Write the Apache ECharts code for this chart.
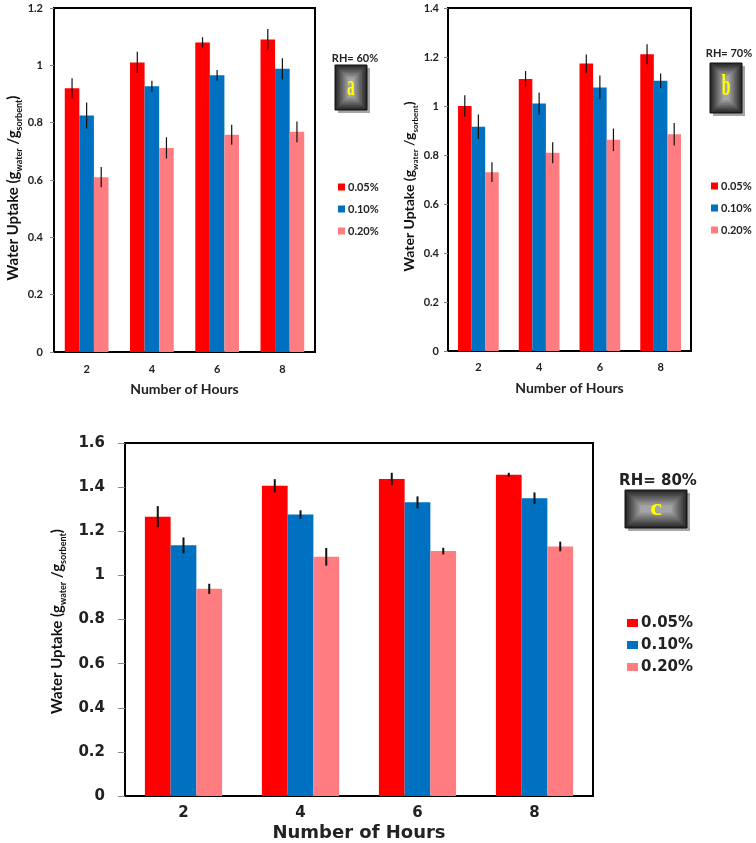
<!DOCTYPE html>
<html>
<head>
<meta charset="utf-8">
<script src="https://cdn.jsdelivr.net/npm/echarts@6/dist/echarts.min.js"></script>
<style>
html,body{margin:0;padding:0;background:#fff;}
#chart{width:756px;height:843px;}
</style>
</head>
<body>
<div id="chart"></div>
<script>
// ---------- data ----------
const hours = ['2', '4', '6', '8'];
const seriesNames = ['0.05%', '0.10%', '0.20%'];

// RH = 60 % (panel a)
const rh60_005 = [0.92, 1.01, 1.08, 1.09];
const rh60_010 = [0.825, 0.927, 0.965, 0.988];
const rh60_020 = [0.61, 0.712, 0.758, 0.768];
const rh60_err005 = [0.035, 0.037, 0.018, 0.037];
const rh60_err010 = [0.045, 0.019, 0.019, 0.037];
const rh60_err020 = [0.035, 0.037, 0.035, 0.036];

// RH = 70 % (panel b)
const rh70_005 = [1.0, 1.11, 1.173, 1.211];
const rh70_010 = [0.915, 1.01, 1.076, 1.103];
const rh70_020 = [0.73, 0.809, 0.862, 0.885];
const rh70_err005 = [0.044, 0.033, 0.037, 0.041];
const rh70_err010 = [0.05, 0.045, 0.048, 0.03];
const rh70_err020 = [0.04, 0.043, 0.046, 0.046];

// RH = 80 % (panel c)
const rh80_005 = [1.266, 1.406, 1.437, 1.456];
const rh80_010 = [1.136, 1.276, 1.331, 1.35];
const rh80_020 = [0.939, 1.084, 1.11, 1.131];
const rh80_err005 = [0.048, 0.03, 0.028, 0.009];
const rh80_err010 = [0.036, 0.019, 0.027, 0.026];
const rh80_err020 = [0.023, 0.04, 0.015, 0.022];

const yMaxA = 1.2, yMaxB = 1.4, yMaxC = 1.6, yStep = 0.2;
const panelLabels = ['RH= 60%', 'RH= 70%', 'RH= 80%'];
const panelLetters = ['a', 'b', 'c'];

// ---------- styles ----------
const colors = ['#ff0000', '#0070c0', '#ff7c80'];
const FA = 'Lato, "Open Sans", sans-serif';
const FC = '"DejaVu Sans", Verdana, sans-serif';

function yTitle(fam, size, sub, bold) {
  return {
    fontFamily: fam,
    rich: {
      n: { fontFamily: fam, fontSize: size, fontWeight: bold ? 'bold' : 'normal', color: '#111', lineHeight: size + 6, verticalAlign: 'middle' },
      s: { fontFamily: fam, fontSize: sub, fontWeight: bold ? 'bold' : 'normal', color: '#111', lineHeight: size + 6, verticalAlign: 'bottom' }
    }
  };
}
const yName = '{n|Water Uptake (g}{s|water}{n| /g}{s|sorbent}{n|)}';

const panels = [
  { grid: { left: 54, top: 8, width: 261, height: 344 }, max: yMaxA, gap: 0.33,
    vals: [rh60_005, rh60_010, rh60_020], errs: [rh60_err005, rh60_err010, rh60_err020],
    font: FA, tick: 11, xMargin: 12, yMargin: 11, nameSize: 14, nameGapX: 30, nameGapY: 28,
    yTitleStyle: yTitle(FA, 15, 9, true), yPad: [0, 16, 0, 0], errW: 1.2, tickLen: 4, titleFont: FA },
  { grid: { left: 448, top: 8, width: 243, height: 343 }, max: yMaxB, gap: 0.33,
    vals: [rh70_005, rh70_010, rh70_020], errs: [rh70_err005, rh70_err010, rh70_err020],
    font: FA, tick: 11, xMargin: 11, yMargin: 9, nameSize: 14, nameGapX: 30, nameGapY: 26,
    yTitleStyle: yTitle(FA, 14, 8, true), yPad: [0, 14, 0, 0], errW: 1.2, tickLen: 4, titleFont: FA },
  { grid: { left: 125, top: 443, width: 468, height: 353 }, max: yMaxC, gap: 0.34,
    vals: [rh80_005, rh80_010, rh80_020], errs: [rh80_err005, rh80_err010, rh80_err020],
    font: FC, tick: 15, xMargin: 10, yMargin: 20, nameSize: 18, nameGapX: 28, nameGapY: 50,
    yTitleStyle: yTitle(FA, 15, 9, true), yPad: [0, 4, 0, 0], errW: 2, tickLen: 7, titleFont: FC }
];

const grids = [], xAxes = [], yAxes = [], series = [];
panels.forEach((p, gi) => {
  grids.push(Object.assign({ show: true, borderColor: '#000', borderWidth: 2, backgroundColor: '#fff' }, p.grid));
  xAxes.push({
    gridIndex: gi, type: 'category', data: hours,
    axisLine: { lineStyle: { color: '#000', width: 2 } },
    axisTick: { show: false },
    axisLabel: { fontFamily: p.font, fontSize: p.tick, fontWeight: 'bold', color: '#222', margin: p.xMargin },
    name: 'Number of Hours', nameLocation: 'middle', nameGap: p.nameGapX,
    nameTextStyle: { fontFamily: p.titleFont, fontSize: p.nameSize, fontWeight: 'bold', color: '#222' }
  });
  yAxes.push({
    gridIndex: gi, type: 'value', min: 0, max: p.max, interval: yStep,
    axisLine: { show: true, lineStyle: { color: '#000', width: 2 } },
    axisTick: { show: true, length: p.tickLen, lineStyle: { color: '#888' } },
    splitLine: { show: false },
    axisLabel: { fontFamily: p.font, fontSize: p.tick, fontWeight: 'bold', color: '#222', margin: p.yMargin },
    name: yName, nameLocation: 'middle', nameGap: p.nameGapY,
    nameTextStyle: Object.assign({ padding: p.yPad }, p.yTitleStyle)
  });
  seriesNames.forEach((nm, k) => {
    series.push({
      name: nm, type: 'bar', xAxisIndex: gi, yAxisIndex: gi,
      data: p.vals[k], barGap: '0%', barCategoryGap: (p.gap * 100) + '%',
      itemStyle: { color: colors[k] }, z: 2
    });
  });
  seriesNames.forEach((nm, k) => {
    const gap = p.gap, lw = p.errW;
    series.push({
      name: 'err' + gi + '_' + k, type: 'custom', xAxisIndex: gi, yAxisIndex: gi, z: 5,
      encode: { x: 0, y: 1 },
      data: hours.map((h, i) => [i, p.vals[k][i], p.errs[k][i]]),
      renderItem: function (params, api) {
        const xi = api.value(0), v = api.value(1), e = api.value(2);
        const c = api.coord([xi, v]);
        const band = api.size([1, 0])[0];
        const gw = band * (1 - gap), bw = gw / 3;
        const cx = c[0] - gw / 2 + bw * (k + 0.5);
        const t = api.coord([xi, v + e])[1], b = api.coord([xi, v - e])[1];
        return { type: 'line', shape: { x1: cx, y1: t, x2: cx, y2: b }, style: { stroke: '#111', lineWidth: lw } };
      }
    });
  });
});

const legendBase = (left, top, fam, size, iw, ih, gap) => ({
  data: seriesNames, orient: 'vertical', left: left, top: top,
  icon: 'rect', itemWidth: iw, itemHeight: ih, itemGap: gap, selectedMode: false,
  textStyle: { fontFamily: fam, fontSize: size, fontWeight: 'bold', color: '#222', lineHeight: size + 3, padding: [0, 0, 0, -2] }
});

// bevel box made of nested rects
function bevelBox(x, y, w, h, letter, fsz, sx, sy) {
  const children = [];
  children.push({ type: 'rect', shape: { x: 3, y: 3, width: w, height: h }, style: { fill: 'rgba(0,0,0,0.35)' } });
  const steps = 9;
  for (let i = 0; i < steps; i++) {
    const t = i / (steps - 1);
    const g = Math.round(40 + t * 125);
    const ins = i * Math.min(w, h) / (2 * steps + 2);
    children.push({ type: 'rect', shape: { x: ins, y: ins, width: w - 2 * ins, height: h - 2 * ins },
      style: { fill: 'rgb(' + g + ',' + g + ',' + g + ')', stroke: i === 0 ? '#111' : null, lineWidth: 1 } });
  }
  children.push({ type: 'text', x: w / 2, y: h / 2, scaleX: sx, scaleY: sy,
    style: { text: letter, fill: '#ffff00', fontFamily: '"Liberation Serif", "DejaVu Serif", serif', fontSize: fsz, fontWeight: 'bold', align: 'center', verticalAlign: 'middle' } });
  return { type: 'group', x: x, y: y, children: children };
}

const option = {
  animation: false,
  backgroundColor: '#fff',
  grid: grids, xAxis: xAxes, yAxis: yAxes, series: series,
  legend: [
    legendBase(333, 175, FA, 11, 7, 7, 8),
    legendBase(706, 174, FA, 11, 7, 7, 8),
    legendBase(622, 609, FC, 15, 11, 8, 4)
  ],
  graphic: [
    { type: 'text', x: 355, y: 58, style: { text: panelLabels[0], fontFamily: FA, fontSize: 11, fontWeight: 'bold', fill: '#222', align: 'center', verticalAlign: 'middle' } },
    bevelBox(335, 65, 32, 45, panelLetters[0], 26, 0.6, 1.1),
    { type: 'text', x: 729, y: 53, style: { text: panelLabels[1], fontFamily: FA, fontSize: 11, fontWeight: 'bold', fill: '#222', align: 'center', verticalAlign: 'middle' } },
    bevelBox(710, 63, 32, 50, panelLetters[1], 26, 0.6, 1.1),
    { type: 'text', x: 658, y: 481, style: { text: panelLabels[2], fontFamily: FC, fontSize: 15, fontWeight: 'bold', fill: '#222', align: 'center', verticalAlign: 'middle' } },
    bevelBox(625, 490, 62, 38, panelLetters[2], 24, 1.1, 1)
  ]
};

const chart = echarts.init(document.getElementById('chart'), null, { renderer: 'canvas' });
chart.setOption(option);
</script>
</body>
</html>
